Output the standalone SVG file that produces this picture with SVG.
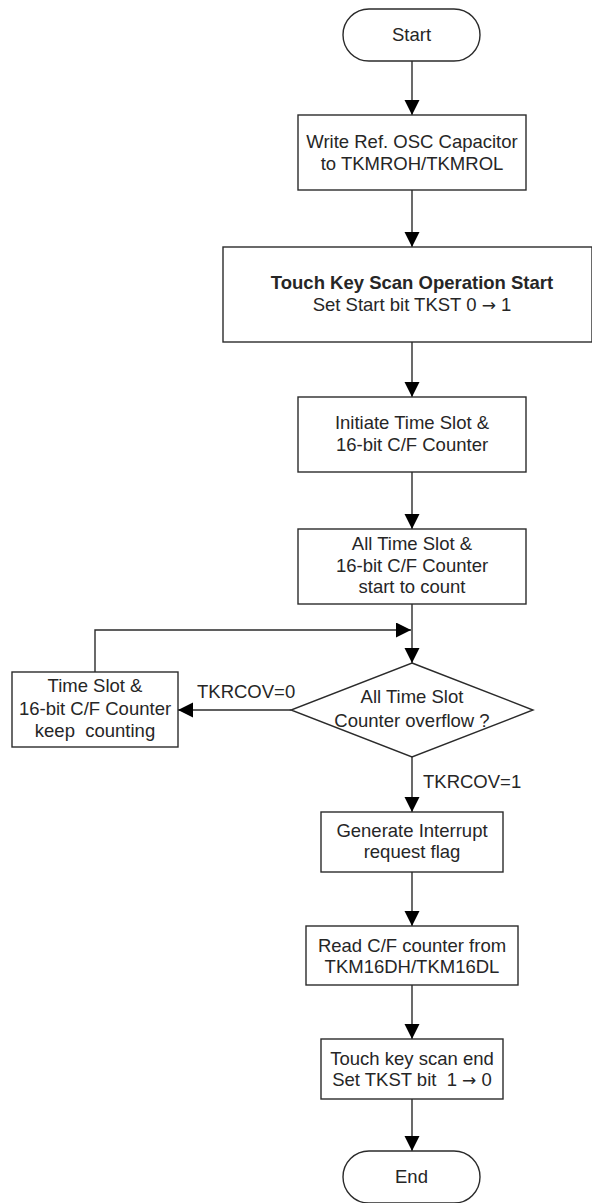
<svg xmlns="http://www.w3.org/2000/svg" width="592" height="1203" viewBox="0 0 592 1203">
  <style>
    .shape { fill: #ffffff; stroke: #2b2b2b; stroke-width: 1.4; }
    .wire { fill: none; stroke: #2b2b2b; stroke-width: 1.4; }
    text { font-family: "Liberation Sans", Arial, sans-serif; font-size: 18.5px; fill: #262626; text-anchor: middle; }
    .bold { font-weight: bold; }
    .lbl { text-anchor: start; }
    .arw { font-family: "DejaVu Sans", sans-serif; font-size: 17px; }
  </style>
  <defs>
    <marker id="arrow" markerUnits="userSpaceOnUse" markerWidth="16" markerHeight="16" refX="15" refY="7.5" orient="auto">
      <path d="M0,0 L15,7.5 L0,15 z" fill="#000000"/>
    </marker>
  </defs>

  <g id="connectors">
    <path class="wire" d="M412,61 V115" marker-end="url(#arrow)"/>
    <path class="wire" d="M412,190 V247" marker-end="url(#arrow)"/>
    <path class="wire" d="M412,342 V397" marker-end="url(#arrow)"/>
    <path class="wire" d="M412,472 V529" marker-end="url(#arrow)"/>
    <path class="wire" d="M412,604 V663" marker-end="url(#arrow)"/>
    <path class="wire" d="M412,757 V812" marker-end="url(#arrow)"/>
    <path class="wire" d="M412,872 V926" marker-end="url(#arrow)"/>
    <path class="wire" d="M412,985 V1039" marker-end="url(#arrow)"/>
    <path class="wire" d="M412,1099 V1151" marker-end="url(#arrow)"/>
    <path class="wire" d="M291,710 H178" marker-end="url(#arrow)"/>
    <path class="wire" d="M95,672 V630 H411" marker-end="url(#arrow)"/>
    <text class="lbl" x="197" y="698">TKRCOV=0</text>
    <text class="lbl" x="423" y="788">TKRCOV=1</text>
  </g>

  <g id="start">
    <rect class="shape" x="343" y="9" width="137" height="52" rx="26" ry="26"/>
    <text x="411.5" y="41">Start</text>
  </g>

  <g id="write-ref">
    <rect class="shape" x="298" y="115" width="228" height="75"/>
    <text x="412" y="148">Write Ref. OSC Capacitor</text>
    <text x="412" y="170">to TKMROH/TKMROL</text>
  </g>

  <g id="scan-start">
    <rect class="shape" x="223" y="247" width="369" height="95"/>
    <text class="bold" x="412" y="289">Touch Key Scan Operation Start</text>
    <text x="412" y="311">Set Start bit TKST 0 <tspan class="arw">→</tspan> 1</text>
  </g>

  <g id="initiate">
    <rect class="shape" x="298" y="397" width="228" height="75"/>
    <text x="412" y="429">Initiate Time Slot &amp;</text>
    <text x="412" y="451">16-bit C/F Counter</text>
  </g>

  <g id="start-count">
    <rect class="shape" x="298" y="529" width="228" height="75"/>
    <text x="412" y="550">All Time Slot &amp;</text>
    <text x="412" y="571.5">16-bit C/F Counter</text>
    <text x="412" y="592.5">start to count</text>
  </g>

  <g id="overflow-check">
    <polygon class="shape" points="412,663 533,710 412,757 291,710"/>
    <text x="412" y="703">All Time Slot</text>
    <text x="412" y="727">Counter overflow ?</text>
  </g>

  <g id="keep-counting">
    <rect class="shape" x="12" y="672" width="166" height="75"/>
    <text x="95" y="692">Time Slot &amp;</text>
    <text x="95" y="715">16-bit C/F Counter</text>
    <text x="95" y="737" xml:space="preserve">keep  counting</text>
  </g>

  <g id="interrupt">
    <rect class="shape" x="321" y="812" width="182" height="60"/>
    <text x="412" y="836.5">Generate Interrupt</text>
    <text x="412" y="858">request flag</text>
  </g>

  <g id="read-counter">
    <rect class="shape" x="306" y="926" width="212" height="59"/>
    <text x="412" y="951.5">Read C/F counter from</text>
    <text x="412" y="973">TKM16DH/TKM16DL</text>
  </g>

  <g id="scan-end">
    <rect class="shape" x="321" y="1039" width="182" height="60"/>
    <text x="412" y="1065">Touch key scan end</text>
    <text x="412" y="1086" xml:space="preserve">Set TKST bit  1 <tspan class="arw">→</tspan> 0</text>
  </g>

  <g id="end">
    <rect class="shape" x="343" y="1151" width="137" height="52" rx="26" ry="26"/>
    <text x="411.5" y="1183">End</text>
  </g>
</svg>
